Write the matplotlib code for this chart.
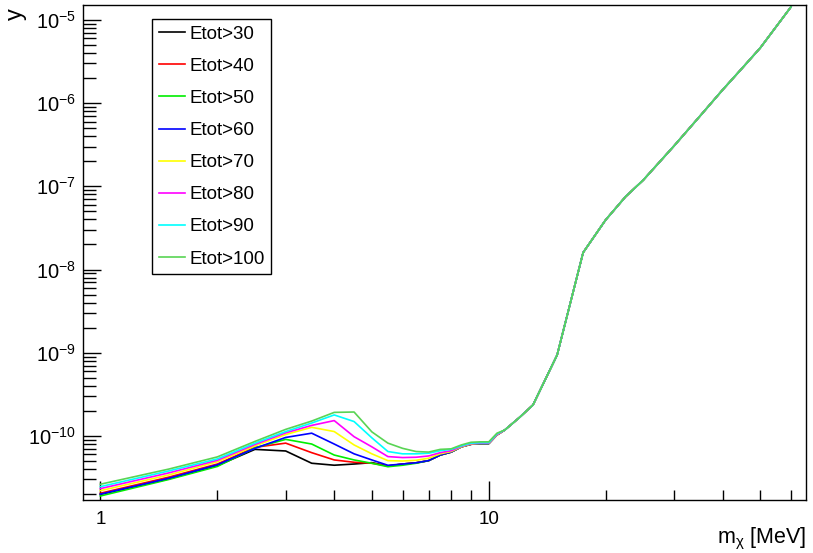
import matplotlib.pyplot as plt
from matplotlib.ticker import LogLocator, NullFormatter, FixedLocator, FixedFormatter

plt.rcParams['font.family'] = ['Liberation Sans', 'DejaVu Sans']
plt.rcParams['mathtext.fontset'] = 'custom'
plt.rcParams['mathtext.rm'] = 'Liberation Sans'
plt.rcParams['mathtext.it'] = 'Liberation Sans:italic'

# masses below 11 MeV, where the cuts differ
mass_low = [1, 1.5, 2, 2.5, 3, 3.5, 4, 4.5, 5, 5.5, 6, 6.5, 7, 7.5, 8, 8.5, 9, 9.5, 10, 10.5]
# common tail (all cuts overlap)
mass_tail = [11, 12, 13, 15, 17.5, 20, 22.5, 25, 30, 35, 40, 45, 50, 60]
y_tail = [1.18e-10, 1.67e-10, 2.36e-10, 9.4e-10, 1.6e-8, 3.95e-8, 7.5e-8, 1.19e-7,
          3.06e-7, 7.0e-7, 1.44e-6, 2.65e-6, 4.6e-6, 1.43e-5]

y_30 = [1.99e-11, 3.05e-11, 4.4e-11, 6.9e-11, 6.6e-11, 4.7e-11, 4.45e-11, 4.6e-11, 4.78e-11, 4.36e-11,
        4.6e-11, 4.76e-11, 5.05e-11, 5.9e-11, 6.4e-11, 7.4e-11, 7.95e-11, 8.1e-11, 8.1e-11, 1.03e-10]
y_40 = [2.05e-11, 3.2e-11, 4.6e-11, 7.3e-11, 8.2e-11, 6.3e-11, 5.15e-11, 4.83e-11, 4.7e-11, 4.36e-11,
        4.6e-11, 4.76e-11, 5.05e-11, 5.9e-11, 6.4e-11, 7.4e-11, 7.95e-11, 8.1e-11, 8.1e-11, 1.03e-10]
y_50 = [1.9e-11, 3.0e-11, 4.3e-11, 7.2e-11, 9.1e-11, 8.0e-11, 5.9e-11, 5.15e-11, 4.7e-11, 4.27e-11,
        4.45e-11, 4.7e-11, 5.05e-11, 5.9e-11, 6.4e-11, 7.4e-11, 7.95e-11, 8.1e-11, 8.1e-11, 1.03e-10]
y_60 = [2.0e-11, 3.1e-11, 4.5e-11, 7.1e-11, 9.6e-11, 1.08e-10, 8.0e-11, 6.1e-11, 5.15e-11, 4.44e-11,
        4.6e-11, 4.76e-11, 5.05e-11, 5.9e-11, 6.4e-11, 7.4e-11, 7.95e-11, 8.1e-11, 8.1e-11, 1.03e-10]
y_70 = [2.2e-11, 3.4e-11, 4.9e-11, 7.6e-11, 1.04e-10, 1.27e-10, 1.13e-10, 7.8e-11, 6.1e-11, 5.05e-11,
        5.0e-11, 5.1e-11, 5.4e-11, 6.1e-11, 6.5e-11, 7.4e-11, 8.0e-11, 8.15e-11, 8.15e-11, 1.03e-10]
y_80 = [2.33e-11, 3.6e-11, 5.1e-11, 7.9e-11, 1.09e-10, 1.34e-10, 1.53e-10, 9.8e-11, 7.4e-11, 5.65e-11,
        5.5e-11, 5.55e-11, 5.75e-11, 6.3e-11, 6.65e-11, 7.5e-11, 8.1e-11, 8.2e-11, 8.2e-11, 1.04e-10]
y_90 = [2.46e-11, 3.8e-11, 5.3e-11, 8.2e-11, 1.13e-10, 1.43e-10, 1.79e-10, 1.49e-10, 9.5e-11, 6.5e-11,
        6.1e-11, 6.1e-11, 6.2e-11, 6.65e-11, 6.9e-11, 7.6e-11, 8.2e-11, 8.3e-11, 8.3e-11, 1.06e-10]
y_100 = [2.63e-11, 4.0e-11, 5.6e-11, 8.6e-11, 1.2e-10, 1.51e-10, 1.92e-10, 1.94e-10, 1.12e-10, 8.2e-11,
         7.1e-11, 6.5e-11, 6.4e-11, 6.9e-11, 7.0e-11, 7.8e-11, 8.4e-11, 8.5e-11, 8.5e-11, 1.08e-10]

labels = ['Etot>30', 'Etot>40', 'Etot>50', 'Etot>60', 'Etot>70', 'Etot>80', 'Etot>90', 'Etot>100']
colors = ['#000000', '#ff0000', '#00ee00', '#0000ff', '#ffff00', '#ff00ff', '#00ffff', '#59d454']
series = [y_30, y_40, y_50, y_60, y_70, y_80, y_90, y_100]

fig = plt.figure(figsize=(8.13, 5.53), dpi=100)
ax = fig.add_axes([83 / 813, 53 / 553, 723 / 813, 495 / 553])

for lab, col, ys in zip(labels, colors, series):
    ax.plot(mass_low + mass_tail, ys + y_tail, color=col, lw=1.2, label=lab)

ax.set_xscale('log')
ax.set_yscale('log')
ax.set_xlim(0.902, 65.6)
ax.set_ylim(1.70e-11, 1.51e-5)

ax.xaxis.set_major_locator(FixedLocator([1, 10]))
ax.xaxis.set_major_formatter(FixedFormatter(['1', '10']))
ax.xaxis.set_minor_locator(LogLocator(base=10, subs=range(2, 10), numticks=20))
ax.xaxis.set_minor_formatter(NullFormatter())
ax.yaxis.set_major_locator(LogLocator(base=10, numticks=20))
ax.yaxis.set_minor_locator(LogLocator(base=10, subs=range(2, 10), numticks=40))
ax.yaxis.set_minor_formatter(NullFormatter())
ax.xaxis.offsetText.set_visible(False)
ax.yaxis.offsetText.set_visible(False)

ax.tick_params(which='both', direction='in', top=False, right=False, width=1)
ax.tick_params(axis='x', which='major', length=14, pad=8, labelsize=13.5)
ax.tick_params(axis='x', which='minor', length=7)
ax.tick_params(axis='y', which='major', length=13, pad=5, labelsize=14.5)
ax.tick_params(axis='y', which='minor', length=9)
for s in ax.spines.values():
    s.set_linewidth(1)

ax.set_xlabel(r'm$_{\mathrm{\chi}}$ [MeV]', fontsize=15.5, loc='right')
ax.xaxis.set_label_coords(1.0, -0.052)
ax.set_ylabel('y', fontsize=17, loc='top')
ax.yaxis.set_label_coords(-0.077, 0.994)

leg = ax.legend(loc='upper left', bbox_to_anchor=(152 / 813, 1 - 19 / 553), bbox_transform=fig.transFigure,
                fontsize=13.5, frameon=True, fancybox=False, edgecolor='black', framealpha=1,
                handlelength=1.4, handletextpad=0.25, labelspacing=0.8, borderpad=0.35, borderaxespad=0)
leg.get_frame().set_linewidth(1)

fig.savefig('out.png', dpi=100)
